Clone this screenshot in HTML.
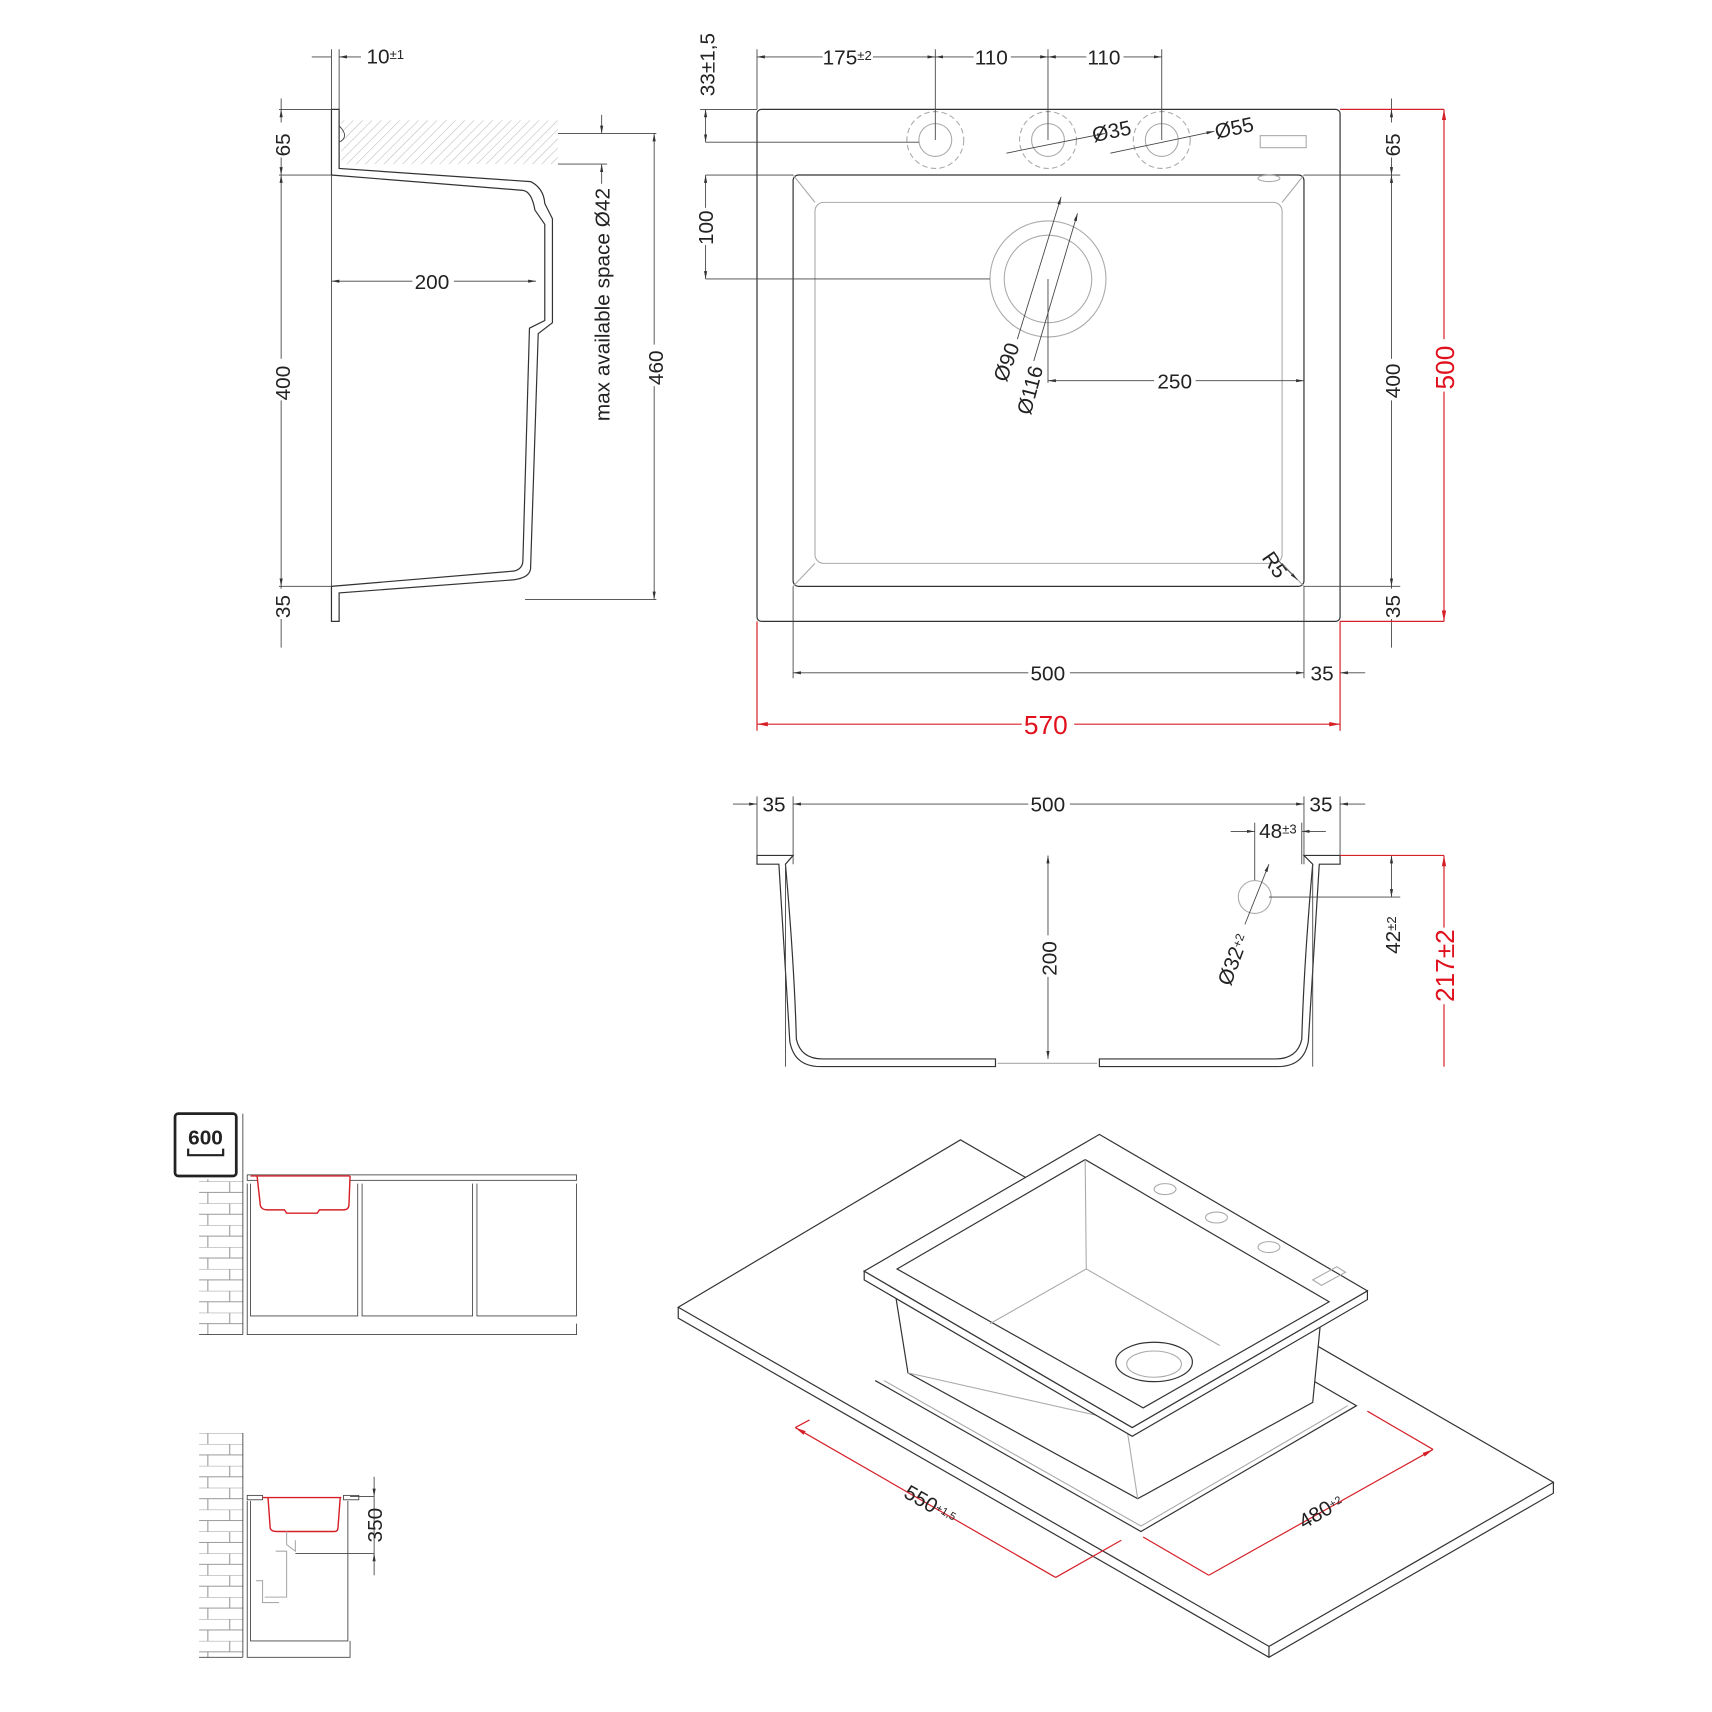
<!DOCTYPE html>
<html><head><meta charset="utf-8"><style>
html,body{margin:0;padding:0;background:#fff}
svg{display:block}
text{font-family:"Liberation Sans",sans-serif;font-size:19px;fill:#222}
.l{stroke:#333;stroke-width:1.1;fill:none}
.lw{stroke:#333;stroke-width:1.1;fill:#fff}
.t{stroke:#444;stroke-width:0.8;fill:none}
.g{stroke:#aaa;stroke-width:1;fill:none}
.r{stroke:#d62028;stroke-width:1.1;fill:none}
.rt{fill:#e0101c;font-size:24px}
</style></head><body>
<svg width="1712" height="1712" viewBox="0 0 1565 1565" xmlns="http://www.w3.org/2000/svg">
<defs>
<marker id="a" viewBox="0 0 10 10" refX="10" refY="5" markerWidth="9" markerHeight="9" orient="auto-start-reverse"><path d="M0,3L10,5L0,7z" fill="#333"/></marker>
<marker id="ar" viewBox="0 0 10 10" refX="10" refY="5" markerWidth="9" markerHeight="9" orient="auto-start-reverse"><path d="M0,3L10,5L0,7z" fill="#d62028"/></marker>
<pattern id="h" width="6" height="6" patternUnits="userSpaceOnUse" patternTransform="rotate(45)"><line x1="0" y1="0" x2="0" y2="6" stroke="#bbb" stroke-width="1"/></pattern>
<pattern id="br" width="40" height="20" patternUnits="userSpaceOnUse"><path d="M0,0H40M0,10H40M10,0V10M30,10V20" stroke="#999" stroke-width="1" fill="none"/></pattern>
</defs>

<!-- ===== TOP VIEW ===== -->
<rect x="692" y="100" width="533" height="468" rx="4" class="l"/>
<rect x="725" y="160" width="467" height="376" rx="5" class="l"/>
<rect x="745" y="185" width="427" height="330" rx="8" class="g"/>
<path d="M725,160L745,185M1192,160L1172,185M725,536L745,515M1192,536L1172,515" class="g"/>
<g class="g" stroke-dasharray="5,3">
<circle cx="855" cy="128" r="26"/><circle cx="958" cy="128" r="26"/><circle cx="1062" cy="128" r="26"/>
</g>
<g class="g"><circle cx="855" cy="128" r="15"/><circle cx="958" cy="128" r="15"/><circle cx="1062" cy="128" r="15"/></g>
<rect x="1152" y="124" width="42" height="11" class="g"/>
<ellipse cx="1160" cy="163" rx="10" ry="3" class="g"/>
<circle cx="958" cy="255" r="53" class="g"/><circle cx="958" cy="255" r="40" class="g"/>
<path d="M692,45V100M855,45V128M958,45V128M1062,45V128" class="t"/>
<path d="M692,52H855" class="t" marker-start="url(#a)" marker-end="url(#a)"/>
<path d="M855,52H958" class="t" marker-start="url(#a)" marker-end="url(#a)"/>
<path d="M958,52H1062" class="t" marker-start="url(#a)" marker-end="url(#a)"/>
<rect x="752" y="42" width="46" height="20" fill="#fff"/><text x="752" y="59">175<tspan font-size="12" dy="-4">±2</tspan></text>
<rect x="890" y="42" width="34" height="20" fill="#fff"/><text x="891" y="59">110</text>
<rect x="993" y="42" width="34" height="20" fill="#fff"/><text x="994" y="59">110</text>
<path d="M640,100H692M645,130H840M645,160H725M645,255H905" class="t"/>
<path d="M645,100V130" class="t" marker-start="url(#a)" marker-end="url(#a)"/>
<path d="M645,160V255" class="t" marker-start="url(#a)" marker-end="url(#a)"/>
<text transform="translate(653,88) rotate(-90)" font-size="16">33±1,5</text>
<rect x="636" y="190" width="18" height="34" fill="#fff"/><text transform="translate(652,224) rotate(-90)">100</text>
<path d="M920,140L1010,122" class="t" marker-end="url(#a)"/>
<path d="M1015,140L1110,120" class="t" marker-end="url(#a)"/>
<text transform="translate(1000,130) rotate(-12)">Ø35</text>
<text transform="translate(1112,127) rotate(-12)">Ø55</text>
<path d="M970,180L930,310" class="t" marker-start="url(#a)"/>
<path d="M985,195L945,330" class="t" marker-start="url(#a)"/>
<text transform="translate(920,350) rotate(-70)">Ø90</text>
<text transform="translate(942,380) rotate(-75)">Ø116</text>
<path d="M958,255V350" class="t"/>
<path d="M958,348H1192" class="t" marker-start="url(#a)" marker-end="url(#a)"/>
<rect x="1055" y="338" width="38" height="20" fill="#fff"/><text x="1058" y="355">250</text>
<text transform="translate(1153,510) rotate(55)">R5</text>
<path d="M1168,512L1186,530" class="t" marker-end="url(#a)"/>
<path d="M1192,160H1280M1192,536H1280" class="t"/>
<path d="M1272,90V100" class="t"/>
<path d="M1272,100V160" class="t" marker-start="url(#a)" marker-end="url(#a)"/>
<path d="M1272,160V536" class="t" marker-start="url(#a)" marker-end="url(#a)"/>
<path d="M1272,536V568" class="t" marker-start="url(#a)" marker-end="url(#a)"/>
<path d="M1272,568V592" class="t"/>
<rect x="1262" y="112" width="20" height="32" fill="#fff"/><text transform="translate(1280,143) rotate(-90)">65</text>
<rect x="1262" y="328" width="20" height="38" fill="#fff"/><text transform="translate(1280,364) rotate(-90)">400</text>
<rect x="1262" y="538" width="20" height="28" fill="#fff"/><text transform="translate(1280,565) rotate(-90)">35</text>
<path d="M1225,100H1320M1225,568H1320" class="r"/>
<path d="M1320,100V568" class="r" marker-start="url(#ar)" marker-end="url(#ar)"/>
<rect x="1306" y="310" width="26" height="48" fill="#fff"/><text class="rt" transform="translate(1329,356) rotate(-90)">500</text>
<path d="M725,536V620M1192,536V620" class="t"/>
<path d="M725,615H1192" class="t" marker-start="url(#a)" marker-end="url(#a)"/>
<path d="M1248,615H1225" class="t" marker-end="url(#a)"/>
<rect x="940" y="604" width="38" height="20" fill="#fff"/><text x="942" y="622">500</text>
<text x="1198" y="622">35</text>
<path d="M692,568V668M1225,568V668" class="r"/>
<path d="M692,662H1225" class="r" marker-start="url(#ar)" marker-end="url(#ar)"/>
<rect x="934" y="648" width="48" height="26" fill="#fff"/><text class="rt" x="936" y="671">570</text>

<!-- ===== SIDE SECTION ===== -->
<path d="M303,45V568" class="t"/>
<path d="M285,52H303M330,52H310" class="t" marker-end="url(#a)"/>
<path d="M310,45V100" class="t"/>
<text x="335" y="58">10<tspan font-size="12" dy="-4">±1</tspan></text>
<rect x="312" y="110" width="198" height="40" fill="url(#h)"/>
<path d="M303,100H310V154L485,166Q497,172 498,186L505,200V295L492,305L485,520Q484,528 470,530L310,542V568H303V536L470,522Q478,520 478,512L484,300L498,293V205L489,192Q486,175 478,174L303,160Z" class="lw"/>
<path d="M310,115Q320,125 310,130" class="t"/>
<path d="M255,100H303M255,160H303M255,536H303" class="t"/>
<path d="M257,90V100" class="t"/>
<path d="M257,100V160" class="t" marker-start="url(#a)" marker-end="url(#a)"/>
<path d="M257,160V536" class="t" marker-start="url(#a)" marker-end="url(#a)"/>
<path d="M257,536V568" class="t" marker-start="url(#a)" marker-end="url(#a)"/>
<path d="M257,568V592" class="t"/>
<rect x="247" y="112" width="20" height="32" fill="#fff"/><text transform="translate(265,143) rotate(-90)">65</text>
<rect x="247" y="328" width="20" height="38" fill="#fff"/><text transform="translate(265,366) rotate(-90)">400</text>
<rect x="247" y="538" width="20" height="28" fill="#fff"/><text transform="translate(265,565) rotate(-90)">35</text>
<path d="M303,257H490" class="t" marker-start="url(#a)" marker-end="url(#a)"/>
<rect x="377" y="247" width="38" height="20" fill="#fff"/><text x="379" y="264">200</text>
<path d="M510,122H600M510,150H555M480,548H600" class="t"/>
<path d="M550,105V122" class="t" marker-end="url(#a)"/>
<path d="M550,168V150" class="t" marker-end="url(#a)"/>
<text transform="translate(557,385) rotate(-90)">max available space Ø42</text>
<path d="M598,122V548" class="t" marker-start="url(#a)" marker-end="url(#a)"/>
<rect x="588" y="315" width="20" height="38" fill="#fff"/><text transform="translate(606,352) rotate(-90)">460</text>

<!-- ===== FRONT SECTION ===== -->
<path d="M692,728V782M725,728V790M1192,728V790M1225,728V782" class="t"/>
<path d="M670,735H692" class="t" marker-end="url(#a)"/>
<path d="M725,735H1192" class="t" marker-start="url(#a)" marker-end="url(#a)"/>
<path d="M1248,735H1225" class="t" marker-end="url(#a)"/>
<text x="697" y="742">35</text>
<rect x="940" y="725" width="38" height="20" fill="#fff"/><text x="942" y="742">500</text>
<text x="1197" y="742">35</text>
<path d="M692,782H725L718,790Q726,880 728,950Q732,968 752,968L910,968V975L750,975Q726,975 722,952L712,790L692,790Z" class="l"/>
<path d="M1225,782H1192L1200,790Q1192,880 1190,950Q1186,968 1166,968L1005,968V975L1168,975Q1192,975 1196,952L1206,790L1225,790Z" class="l"/>
<path d="M912,972H1003" stroke="#aaa" stroke-width="1"/>
<path d="M718,790V975M1200,790V975" class="t"/>
<path d="M958,782V968" class="t" marker-start="url(#a)" marker-end="url(#a)"/>
<rect x="948" y="855" width="20" height="38" fill="#fff"/><text transform="translate(966,892) rotate(-90)">200</text>
<path d="M1147,752V805M1190,752V790" class="t"/>
<path d="M1125,760H1147" class="t" marker-end="url(#a)"/>
<path d="M1212,760H1190" class="t" marker-end="url(#a)"/>
<text x="1151" y="766">48<tspan font-size="12" dy="-4">±3</tspan></text>
<circle cx="1147" cy="820" r="15" class="g"/>
<path d="M1138,845L1160,790" class="t" marker-end="url(#a)"/>
<text transform="translate(1125,902) rotate(-70)">Ø32<tspan font-size="11" dy="-4">+2</tspan></text>
<path d="M1160,820H1280M1225,782H1320" class="t"/>
<path d="M1272,782V820" class="t" marker-start="url(#a)" marker-end="url(#a)"/>
<text transform="translate(1280,872) rotate(-90)">42<tspan font-size="12" dy="-4">±2</tspan></text>
<path d="M1225,782H1320" class="r"/>
<path d="M1320,782V975" class="r" marker-start="url(#ar)"/>
<rect x="1306" y="848" width="26" height="70" fill="#fff"/><text class="rt" transform="translate(1329,916) rotate(-90)">217±2</text>

<!-- ===== INSTALL ICONS ===== -->
<rect x="160" y="1018" width="56" height="57" rx="3" fill="#fff" stroke="#222" stroke-width="2.5"/>
<text x="172" y="1046" font-size="16" font-weight="bold">600</text>
<path d="M172,1050V1056H204V1050" stroke="#222" stroke-width="2" fill="none"/>
<rect x="182" y="1078" width="40" height="142" fill="url(#br)"/>
<path d="M222,1018V1220M182,1220H222" class="t"/>
<rect x="226" y="1074" width="301" height="5" class="t"/>
<path d="M229,1082V1203H327V1082M331,1082V1203H432V1082M436,1082V1203H527V1082M226,1082V1220H527V1210" class="t"/>
<path d="M235,1075L238,1102Q239,1106 245,1106L260,1106L262,1109H290L292,1106H314Q319,1106 319,1101L320,1075" stroke="#d62028" stroke-width="1.3" fill="#fff"/>
<path d="M229,1075H320" stroke="#d62028" stroke-width="1.3"/>

<rect x="182" y="1310" width="40" height="205" fill="url(#br)"/>
<path d="M222,1310V1515M182,1515H222" class="t"/>
<rect x="226" y="1367" width="14" height="4" class="t"/><rect x="314" y="1367" width="14" height="4" class="t"/>
<path d="M229,1372V1500H318V1372M226,1372V1515H320V1500" class="t"/>
<path d="M240,1369H312M245,1369L247,1397Q248,1400 253,1400H306Q309,1400 309,1396L311,1369" stroke="#d62028" stroke-width="1.3" fill="none"/>
<path d="M262,1400V1412L270,1418V1408M252,1418H262V1460H242M234,1445H240V1465H255" class="g"/>
<path d="M270,1420H342M320,1368H342" class="t"/>
<path d="M342,1350V1368" class="t" marker-end="url(#a)"/>
<path d="M342,1440V1420" class="t" marker-end="url(#a)"/>
<path d="M342,1368V1420" class="t"/>
<text transform="translate(349,1410) rotate(-90)">350</text>

<!-- ===== ISOMETRIC ===== -->
<path d="M620,1195L878,1042L1420,1355L1160,1505Z" class="lw"/>
<path d="M620,1195V1205L1160,1515L1420,1365V1355M1160,1505V1515" class="l"/>
<path d="M800,1262L1043,1400L1240,1285L1200,1262" class="l"/>
<path d="M808,1262L1043,1395L1232,1285" class="g"/>
<path d="M818,1180L830,1255L1040,1370L1200,1282L1208,1200Z" class="lw"/>
<path d="M1030,1305L1040,1370M830,1255L1030,1300" class="g"/>
<path d="M790,1162V1170L1035,1313L1250,1188V1180L1035,1305Z" class="lw"/>
<path d="M790,1162L1005,1037L1250,1180L1035,1305Z" class="lw"/>
<path d="M820,1160L992,1060L1215,1190L1045,1287Z" class="l"/>
<path d="M992,1060L993,1160L905,1210M993,1160L1115,1230" class="g"/>
<ellipse cx="1055" cy="1245" rx="35" ry="18" class="l"/><ellipse cx="1055" cy="1247" rx="25" ry="12" class="g"/>
<ellipse cx="1065" cy="1087" rx="10" ry="5" class="g"/><ellipse cx="1112" cy="1113" rx="10" ry="5" class="g"/><ellipse cx="1160" cy="1140" rx="10" ry="5" class="g"/>
<path d="M1200,1170L1222,1158L1230,1163L1208,1175Z" class="g"/>
<path d="M727,1305L965,1442M1105,1440L1310,1325" class="r" marker-start="url(#ar)" marker-end="url(#ar)"/>
<path d="M727,1305L740,1298M965,1442L1025,1408M1105,1440L1045,1405M1310,1325L1250,1290" class="r"/>
<text transform="translate(825,1368) rotate(30)" fill="#d62028" font-size="16">550<tspan font-size="10" dy="-4">+1,5</tspan></text>
<text transform="translate(1192,1398) rotate(-30)" fill="#d62028" font-size="16">480<tspan font-size="10" dy="-4">+2</tspan></text>
</svg>
</body></html>
